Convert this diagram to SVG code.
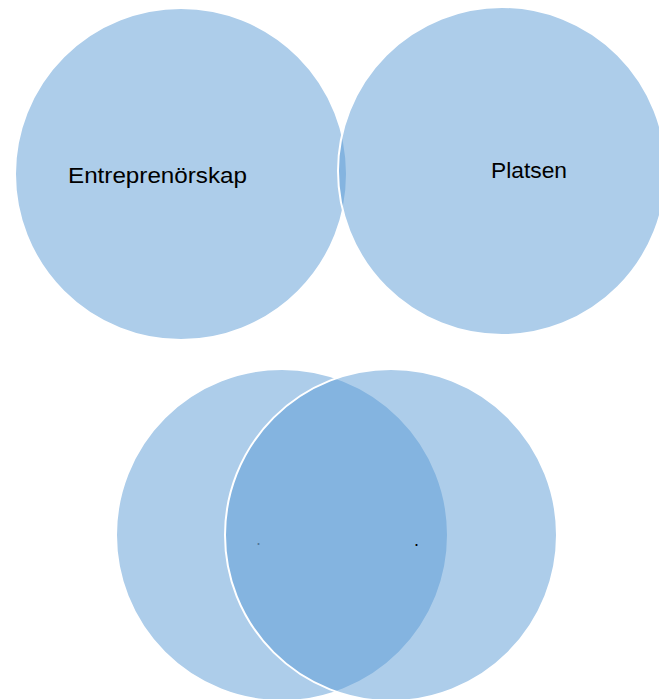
<svg xmlns="http://www.w3.org/2000/svg" width="659" height="699" viewBox="0 0 659 699">
<style>
.c{fill:#5B9BD5;fill-opacity:0.5;stroke:#ffffff;stroke-width:2}
.t{font-family:"Liberation Sans",Arial,sans-serif;font-size:22px;fill:#000000}
.d{font-family:"Liberation Sans",Arial,sans-serif;font-size:18px;fill:#000000}
</style>
<rect width="659" height="699" fill="#ffffff"/>
<g id="entreprenorskap">
<circle class="c" cx="181" cy="174" r="166"/>
<text class="t" x="68" y="183" textLength="179" lengthAdjust="spacingAndGlyphs">Entreprenörskap</text>
</g>
<g id="platsen">
<circle class="c" cx="502" cy="171" r="164"/>
<text class="t" x="491" y="178" textLength="76" lengthAdjust="spacingAndGlyphs">Platsen</text>
</g>
<g id="venn-left">
<circle class="c" cx="282" cy="535" r="166"/>
<text class="d" x="256" y="545" fill-opacity="0.6">.</text>
</g>
<g id="venn-right">
<circle class="c" cx="391" cy="535" r="166"/>
<text class="d" x="414" y="546">.</text>
</g>
<g id="connectors"></g>
</svg>
